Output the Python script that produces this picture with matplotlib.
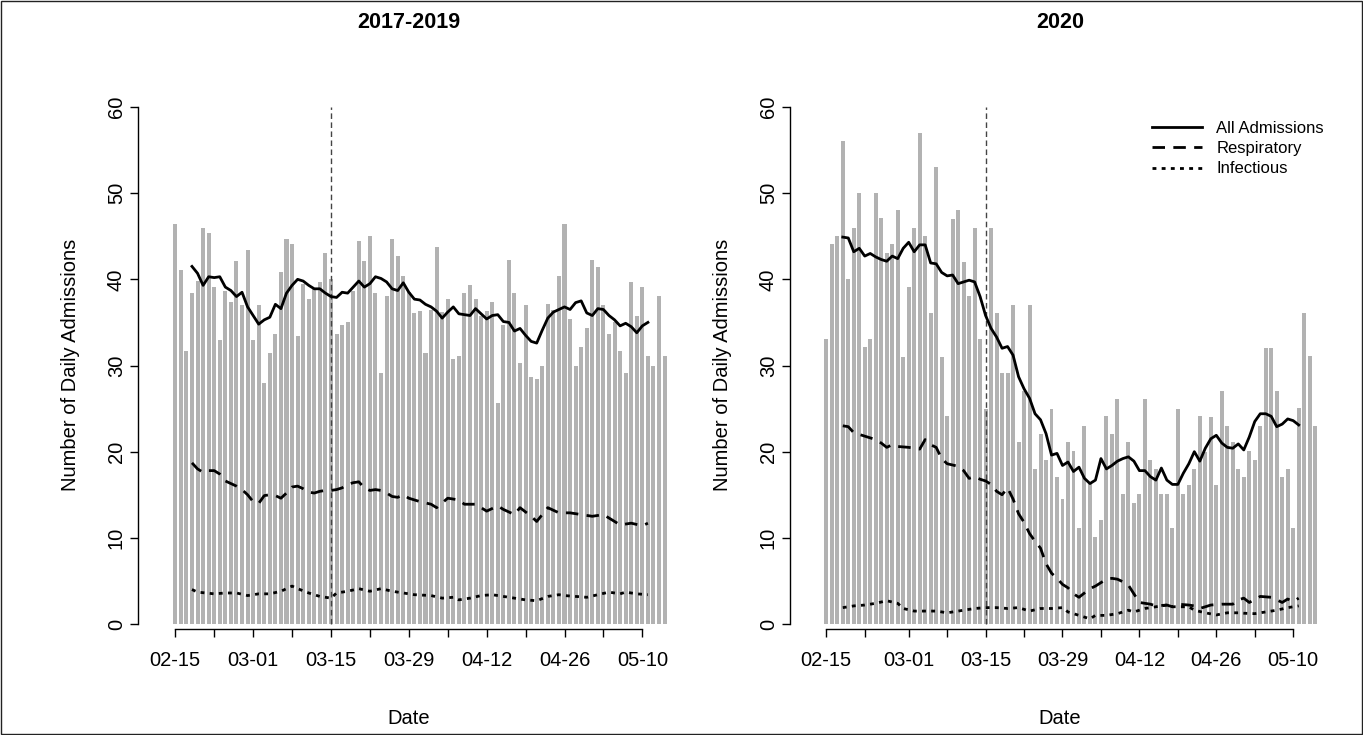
import numpy as np
import matplotlib
matplotlib.use("Agg")
import matplotlib.pyplot as plt
from matplotlib.lines import Line2D
from matplotlib.patches import Rectangle

plt.rcParams['font.family'] = ['Liberation Sans', 'DejaVu Sans']

# ---------------- data ----------------
# daily admissions (bars), index = days since 02-15
left_bars = [46.4, 41.1, 31.7, 38.4, 39.8, 46.0, 45.4, 39.1, 33.0, 38.6,
             37.4, 42.1, 37.0, 43.4, 33.0, 37.0, 28.0, 31.4, 33.7, 40.8,
             44.7, 44.1, 33.4, 39.5, 37.7, 38.9, 39.7, 43.1, 40.0, 33.7,
             34.7, 35.1, 38.7, 44.4, 42.1, 45.0, 38.4, 29.1, 38.1, 44.7,
             42.7, 40.4, 38.5, 36.1, 36.3, 31.4, 36.4, 43.7, 36.2, 37.7,
             30.7, 31.1, 38.4, 39.4, 37.7, 35.7, 36.3, 37.4, 25.7, 34.7,
             42.3, 38.4, 30.3, 37.0, 28.7, 28.4, 30.0, 37.1, 36.4, 40.4,
             46.4, 35.4, 30.0, 32.1, 34.4, 42.3, 41.4, 37.0, 33.7, 35.1,
             31.7, 29.1, 39.7, 35.7, 39.1, 31.1, 30.0, 38.1, 31.1]
right_bars = [33.1, 44.1, 45.0, 56.0, 40.0, 46.0, 50.0, 32.1, 33.1, 50.0,
              47.1, 43.0, 44.1, 48.0, 31.0, 39.1, 46.0, 57.0, 45.0, 36.1,
              53.0, 31.0, 24.1, 47.0, 48.0, 42.0, 38.1, 46.0, 33.1, 25.0,
              46.0, 36.1, 29.1, 29.1, 37.0, 21.1, 27.0, 37.0, 18.0, 22.1,
              19.0, 25.0, 17.1, 14.5, 21.1, 20.1, 11.1, 23.0, 16.5, 10.1,
              12.1, 24.1, 22.1, 26.1, 15.1, 21.1, 14.1, 15.1, 26.1, 19.0,
              18.0, 15.1, 15.1, 11.1, 25.0, 15.1, 16.1, 18.0, 24.1, 20.0,
              24.0, 16.1, 27.0, 23.0, 21.1, 18.0, 17.1, 20.1, 19.0, 23.0,
              32.0, 32.0, 27.0, 17.1, 18.0, 11.1, 25.1, 36.1, 31.1, 23.0]

# smoothed lines
left_all_days = list(range(3, 86))
left_all = [41.5, 40.7, 39.3, 40.3, 40.2, 40.3, 39.1, 38.7, 38.0, 38.5,
            36.8, 35.8, 34.8, 35.3, 35.6, 37.1, 36.6, 38.4, 39.3, 40.0,
            39.8, 39.3, 38.9, 38.9, 38.4, 38.0, 37.9, 38.5, 38.4, 39.1,
            39.8, 39.1, 39.5, 40.3, 40.1, 39.7, 38.9, 38.7, 39.6, 38.5,
            37.7, 37.6, 37.1, 36.8, 36.3, 35.5, 36.2, 36.8, 36.0, 35.9,
            35.8, 36.6, 36.0, 35.4, 35.8, 35.9, 35.1, 35.0, 34.0, 34.3,
            33.5, 32.8, 32.6, 34.1, 35.5, 36.2, 36.5, 36.8, 36.5, 37.3,
            37.5, 36.1, 35.8, 36.6, 36.5, 35.8, 35.3, 34.6, 34.9, 34.5,
            33.8, 34.6, 35.0]
left_resp_days = [3, 4, 5, 6, 7, 8, 9, 10, 11, 12, 13, 14, 15, 16, 17, 18, 19, 20,
                  21, 22, 23, 24, 25, 26, 27, 28, 29, 30, 31, 32, 33, 34, 35, 36,
                  37, 38, 39, 40, 41, 42, 44, 46, 47, 49, 51, 52, 54, 56, 58, 59,
                  61, 62, 64, 65, 67, 69, 71, 73, 75, 77, 78, 80, 82, 84, 85]
left_resp = [18.7, 18.0, 17.6, 17.8, 17.8, 17.4, 16.6, 16.3, 16.0, 15.6, 15.0, 14.2,
             14.0, 14.9, 15.0, 14.9, 14.6, 15.2, 15.9, 16.0, 15.7, 15.3, 15.2, 15.4,
             15.5, 15.5, 15.6, 15.8, 16.2, 16.4, 16.5, 15.8, 15.5, 15.6, 15.5, 15.2,
             14.8, 14.7, 15.0, 14.6, 14.2, 13.9, 13.5, 14.6, 14.4, 13.9, 13.9, 13.1,
             13.7, 13.3, 12.7, 13.5, 12.5, 11.9, 13.5, 12.9, 12.9, 12.7, 12.5, 12.7,
             12.3, 11.5, 11.7, 11.4, 11.7]
left_inf_days = [3, 4, 7, 9, 11, 13, 15, 17, 19, 21, 22, 24, 26, 28, 29, 31, 33, 35,
                 37, 39, 41, 43, 46, 48, 50, 51, 53, 55, 57, 59, 61, 63, 65, 67, 69,
                 70, 72, 74, 76, 78, 80, 81, 83, 85]
left_inf = [4.0, 3.7, 3.5, 3.6, 3.6, 3.3, 3.5, 3.5, 3.8, 4.4, 4.1, 3.6, 3.2, 3.0,
            3.6, 3.8, 4.1, 3.8, 4.1, 3.8, 3.6, 3.4, 3.3, 3.0, 3.1, 2.8, 3.0, 3.3,
            3.4, 3.2, 3.0, 2.8, 2.7, 3.2, 3.4, 3.3, 3.2, 3.1, 3.4, 3.7, 3.5, 3.7,
            3.5, 3.4]

right_all_days = list(range(3, 87))
right_all = [44.9, 44.8, 43.2, 43.6, 42.7, 43.0, 42.6, 42.3, 42.1, 42.7,
             42.4, 43.6, 44.3, 43.2, 44.0, 44.0, 41.9, 41.8, 40.8, 40.4,
             40.5, 39.5, 39.7, 39.9, 39.7, 38.0, 35.8, 34.3, 33.3, 32.0,
             32.2, 31.2, 28.7, 27.3, 26.2, 24.4, 23.7, 22.1, 19.6, 19.8,
             18.4, 18.8, 17.7, 18.2, 16.9, 16.3, 16.7, 19.2, 18.0, 18.4,
             18.9, 19.2, 19.4, 18.9, 17.8, 17.8, 17.1, 16.7, 18.1, 16.7,
             16.2, 16.2, 17.5, 18.6, 20.0, 18.9, 20.4, 21.5, 21.9, 21.0,
             20.5, 20.4, 20.9, 20.2, 21.7, 23.5, 24.4, 24.4, 24.1, 22.9,
             23.2, 23.8, 23.6, 23.1]
right_resp_days = [3, 4, 5, 7, 9, 10, 11, 12, 13, 15, 16, 17, 18, 19, 20, 21, 22, 24,
                   25, 26, 27, 28, 29, 30, 31, 32, 33, 34, 35, 36, 37, 38, 39, 40,
                   41, 42, 43, 44, 45, 46, 47, 48, 49, 50, 51, 52, 53, 54, 55, 56,
                   57, 58, 59, 60, 62, 63, 64, 66, 67, 68, 69, 70, 72, 74, 75, 76,
                   77, 79, 81, 83, 84, 85, 86]
right_resp = [23.0, 22.9, 22.2, 21.8, 21.4, 21.0, 20.5, 20.8, 20.6, 20.5, 20.4,
              20.3, 21.4, 20.8, 20.5, 19.2, 18.6, 18.3, 17.8, 16.9, 17.1, 16.8,
              16.6, 16.2, 15.4, 15.0, 15.8, 14.5, 12.8, 11.8, 10.5, 9.6, 8.8, 7.0,
              5.9, 5.3, 4.6, 4.2, 3.5, 3.1, 3.6, 4.1, 4.4, 4.8, 5.2, 5.3, 5.2, 4.9,
              4.5, 3.5, 2.5, 2.4, 2.3, 2.1, 2.2, 2.0, 2.3, 2.2, 2.1, 1.8, 2.0, 2.2,
              2.3, 2.3, 2.8, 3.0, 2.5, 3.2, 3.1, 2.5, 2.9, 2.6, 3.0]
right_inf_days = [3, 5, 7, 9, 11, 13, 14, 16, 18, 20, 22, 24, 26, 27, 29, 31, 33, 35,
                  37, 39, 41, 43, 44, 46, 48, 49, 51, 53, 55, 56, 58, 60, 62, 63, 66,
                  67, 69, 71, 73, 75, 76, 78, 80, 82, 84, 86]
right_inf = [1.9, 2.1, 2.2, 2.4, 2.7, 2.4, 1.8, 1.5, 1.5, 1.5, 1.3, 1.5, 1.7, 1.8,
             1.9, 1.9, 1.8, 1.9, 1.5, 1.8, 1.8, 1.9, 1.4, 1.0, 0.6, 1.0, 1.0, 1.2,
             1.6, 1.4, 1.8, 2.0, 2.2, 2.0, 2.0, 1.6, 1.3, 1.05, 1.3, 1.3, 1.25, 1.2,
             1.4, 1.6, 1.9, 2.1]

# axis ticks (days since 02-15) and labels
left_ticks = [0, 7, 14, 21, 28, 35, 42, 49, 56, 63, 70, 77, 84]
left_labels = ['02-15', '', '03-01', '', '03-15', '', '03-29', '', '04-12', '',
               '04-26', '', '05-10']
right_ticks = [0, 7, 15, 22, 29, 36, 43, 50, 57, 64, 71, 78, 85]
right_labels = ['02-15', '', '03-01', '', '03-15', '', '03-29', '', '04-12', '',
                '04-26', '', '05-10']
left_cut = 28    # 03-15
right_cut = 29   # 03-15 (leap year)

titles = ['2017-2019', '2020']
legend_labels = ['All Admissions', 'Respiratory', 'Infectious']

# ---------------- figure ----------------
W, H = 1363, 735
fig = plt.figure(figsize=(W / 100, H / 100), dpi=100)

def px_axes(x0, x1, y0, y1):
    return fig.add_axes([x0 / W, 1 - y1 / H, (x1 - x0) / W, (y1 - y0) / H])

BAR_C = '#B2B2B2'
LW = 2.0
RESP_DASH = (4.5, 3.0)
INF_DASH = (1.4, 1.9)

panels = [
    dict(x0=138, x1=680, day0=175.3, dpx=5.56, bars=left_bars,
         all_d=left_all_days, all_v=left_all, resp_d=left_resp_days, resp_v=left_resp,
         inf_d=left_inf_days, inf_v=left_inf, ticks=left_ticks, labels=left_labels,
         cut=left_cut, title=titles[0], xmax=84),
    dict(x0=790, x1=1330, day0=826.3, dpx=5.493, bars=right_bars,
         all_d=right_all_days, all_v=right_all, resp_d=right_resp_days, resp_v=right_resp,
         inf_d=right_inf_days, inf_v=right_inf, ticks=right_ticks, labels=right_labels,
         cut=right_cut, title=titles[1], xmax=85),
]

Y0PX, Y60PX = 624.0, 107.0
ppu = (Y0PX - Y60PX) / 60.0
AX_TOP, AX_BOT = 100.0, 629.0

axes = []
for p in panels:
    ax = px_axes(p['x0'], p['x1'], AX_TOP, AX_BOT)
    ax.set_xlim((p['x0'] - p['day0']) / p['dpx'], (p['x1'] - p['day0']) / p['dpx'])
    ax.set_ylim((Y0PX - AX_BOT) / ppu, (Y0PX - AX_TOP) / ppu)
    days = np.arange(len(p['bars']))
    ax.bar(days, p['bars'], width=0.72, color=BAR_C, linewidth=0, zorder=1)
    ax.plot([p['cut'], p['cut']], [0, 60], color='#444444', lw=1.0,
            dashes=(4, 2.5), zorder=2)
    ax.plot(p['all_d'], p['all_v'], color='black', lw=LW, solid_joinstyle='round', zorder=3)
    ax.plot(p['resp_d'], p['resp_v'], color='black', lw=LW, dashes=RESP_DASH, zorder=3)
    ax.plot(p['inf_d'], p['inf_v'], color='black', lw=LW, dashes=INF_DASH, zorder=3)

    for s in ['top', 'right']:
        ax.spines[s].set_visible(False)
    ax.spines['left'].set_bounds(0, 60)
    ax.spines['bottom'].set_bounds(0, p['xmax'])
    for s in ['left', 'bottom']:
        ax.spines[s].set_linewidth(1.0)
    ax.set_yticks([0, 10, 20, 30, 40, 50, 60])
    ax.set_xticks(p['ticks'])
    ax.set_xticklabels(p['labels'])
    ax.tick_params(axis='both', direction='out', length=5.8, width=1.0, labelsize=14.5,
                   colors='black')
    ax.tick_params(axis='x', pad=10)
    ax.tick_params(axis='y', pad=3)
    for lab in ax.get_yticklabels():
        lab.set_rotation(90)
        lab.set_va('center')
    ax.set_facecolor('none')
    axes.append(ax)

    cx = (p['x0'] + p['x1']) / 2 / W
    fig.text(cx, 1 - 23 / H, p['title'], ha='center', va='center', fontsize=15.5,
             fontweight='bold')
    fig.text(cx, 1 - 718 / H, 'Date', ha='center', va='center', fontsize=14.5)
    fig.text((p['x0'] - 68) / W, 1 - 365 / H, 'Number of Daily Admissions',
             ha='center', va='center', rotation=90, fontsize=14.5)

handles = [Line2D([], [], color='black', lw=LW),
           Line2D([], [], color='black', lw=LW, dashes=RESP_DASH),
           Line2D([], [], color='black', lw=LW, dashes=INF_DASH)]
axes[1].legend(handles, legend_labels, loc='upper left',
               bbox_to_anchor=(1152 / W, 1 - 121 / H), bbox_transform=fig.transFigure,
               frameon=False, fontsize=12, handlelength=3.0, handletextpad=0.85,
               labelspacing=0.31, borderpad=0, borderaxespad=0)

fig.patches.append(Rectangle((0.0005, 0.001), 0.999, 0.998, transform=fig.transFigure,
                             fill=False, edgecolor='#222222', lw=1.0))

fig.savefig('out.png', dpi=100)
